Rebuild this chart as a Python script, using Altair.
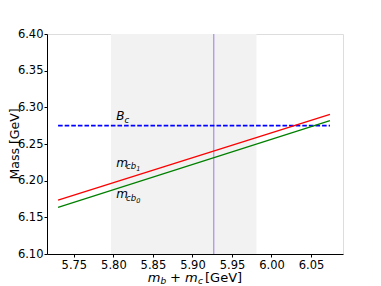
import altair as alt
import pandas as pd

# ---- data ----
x_mass = [5.730, 6.074]            # m_b + m_c [GeV], line ends
m_cb1 = [6.1736, 6.2905]           # red line
m_cb0 = [6.1637, 6.2818]           # green line
bc_mass = 6.275                    # B_c mass (dashed)
band = [5.797, 5.981]              # shaded band
central = 5.927                    # vertical line
x_ticks = [5.75, 5.80, 5.85, 5.90, 5.95, 6.00, 6.05]
y_ticks = [6.10, 6.15, 6.20, 6.25, 6.30, 6.35, 6.40]
x_domain = [5.716, 6.0905]
y_domain = [6.10, 6.40]

FONT = "DejaVu Sans"
W, H = 296, 220

xs = alt.Scale(domain=x_domain, nice=False, zero=False)
ys = alt.Scale(domain=y_domain, nice=False, zero=False)

lines_df = pd.DataFrame({
    "x": x_mass + x_mass,
    "y": m_cb1 + m_cb0,
    "s": ["cb1", "cb1", "cb0", "cb0"],
})

common_axis = dict(format=".2f", labelFont=FONT, labelFontSize=11.5,
                   labelColor="black", tickColor="black", domainColor="black",
                   tickSize=3, grid=False, title=None,
                   labelFlush=False, labelOverlap=False)
xaxis = alt.Axis(values=x_ticks, labelPadding=2.5, **common_axis)
yaxis = alt.Axis(values=y_ticks, labelPadding=1, **common_axis)

band_layer = alt.Chart(pd.DataFrame({"a": [band[0]], "b": [band[1]]})).mark_rect(
    color="#f2f2f2").encode(
    x=alt.X("a:Q", scale=xs, axis=xaxis), x2="b:Q",
    y=alt.value(0), y2=alt.value(H))

vline = alt.Chart(pd.DataFrame({"x": [central]})).mark_rule(
    color="#a88ee3", strokeWidth=1.2).encode(
    x=alt.X("x:Q", scale=xs, axis=xaxis), y=alt.value(0), y2=alt.value(H))

bc_line = alt.Chart(pd.DataFrame({"x": [x_mass[0]], "x2": [x_mass[1]], "y": [bc_mass]})).mark_rule(
    color="#0000ff", strokeWidth=1.6, strokeDash=[4.6, 2]).encode(
    x=alt.X("x:Q", scale=xs, axis=xaxis), x2="x2:Q", y=alt.Y("y:Q", scale=ys, axis=yaxis))

lines = alt.Chart(lines_df).mark_line(strokeWidth=1.3).encode(
    x=alt.X("x:Q", scale=xs, axis=xaxis),
    y=alt.Y("y:Q", scale=ys, axis=yaxis),
    color=alt.Color("s:N", scale=alt.Scale(domain=["cb1", "cb0"], range=["red", "green"]), legend=None),
    detail="s:N")

# ---- in-plot labels (mathtext-like) ----
def label(xv, yv, pieces):
    layers = []
    df = pd.DataFrame({"x": [xv], "y": [yv]})
    for txt, dx, dy, size in pieces:
        layers.append(alt.Chart(df).mark_text(
            text=txt, font=FONT, fontStyle="italic", fontSize=size, align="left",
            baseline="alphabetic", dx=dx, dy=dy, color="black").encode(
            x=alt.X("x:Q", scale=xs, axis=xaxis), y=alt.Y("y:Q", scale=ys, axis=yaxis)))
    return layers

lab_x = 5.8035
texts = []
texts += label(lab_x, 6.2827, [("B", 0, 0, 12), ("c", 8.4, 2.7, 8.5)])
texts += label(lab_x, 6.2190, [("m", 0, 0, 12), ("cb", 9.8, 2.7, 8.5), ("1", 20.0, 4.3, 6.5)])
texts += label(lab_x, 6.1760, [("m", 0, 0, 12), ("cb", 9.8, 2.7, 8.5), ("0", 20.0, 4.3, 6.5)])

# ---- axis titles built from text pieces ----
xt_pieces = [("m", 100.7, 247.5, 13, "italic"), ("b", 113.6, 250.2, 9, "italic"),
             ("+", 123.0, 247.5, 13, "normal"), ("m", 138.0, 247.5, 13, "italic"),
             ("c", 151.0, 250.2, 9, "italic"), ("[GeV]", 158.0, 247.5, 13, "normal")]
for txt, px, py, size, style in xt_pieces:
    texts.append(alt.Chart(pd.DataFrame({"k": [0]})).mark_text(
        text=txt, font=FONT, fontSize=size, fontStyle=style, align="left",
        baseline="alphabetic", color="black").encode(
        x=alt.value(px), y=alt.value(py)))

texts.append(alt.Chart(pd.DataFrame({"k": [0]})).mark_text(
    text="Mass [GeV]", font=FONT, fontSize=12.5, angle=270, align="center",
    baseline="middle", color="black").encode(
    x=alt.value(-32.5), y=alt.value(H / 2)))

chart = alt.layer(band_layer, vline, bc_line, lines, *texts).properties(
    width=W, height=H,
    autosize=alt.AutoSizeParams(type="none"),
    padding={"left": 39, "top": 26, "right": 20, "bottom": 32},
).configure_view(stroke="black", strokeWidth=1).configure(background="white")

chart.save("out.html", embed_options={"renderer": "svg", "actions": False})
